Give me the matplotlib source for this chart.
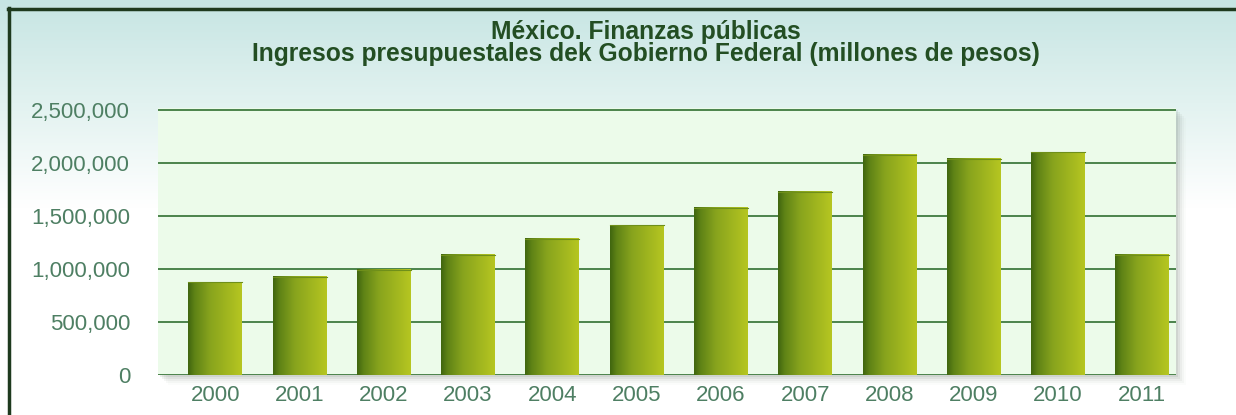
import numpy as np
import matplotlib
matplotlib.use("Agg")
import matplotlib.pyplot as plt
from matplotlib.colors import LinearSegmentedColormap
from matplotlib.patches import Rectangle
from matplotlib.lines import Line2D
from matplotlib.ticker import FuncFormatter

years = ["2000", "2001", "2002", "2003", "2004", "2005",
         "2006", "2007", "2008", "2009", "2010", "2011"]
ingresos = [875000, 925000, 995000, 1135000, 1285000, 1415000,
            1580000, 1730000, 2080000, 2040000, 2100000, 1135000]
yticks = [0, 500000, 1000000, 1500000, 2000000, 2500000]
title = "México. Finanzas públicas\nIngresos presupuestales dek Gobierno Federal (millones de pesos)"

plt.rcParams['font.family'] = ['Liberation Sans', 'DejaVu Sans']

W, H = 1236, 415
fig = plt.figure(figsize=(W / 100, H / 100), dpi=100)

# background gradient (figure)
bg = fig.add_axes([0, 0, 1, 1], zorder=-10)
bg.set_axis_off()
grad = np.linspace(0, 1, 256).reshape(-1, 1)
bg_cmap = LinearSegmentedColormap.from_list(
    "bg", [(0, "#c6e5e3"), (0.25, "#e2f2f0"), (0.5, "#ffffff"), (1, "#ffffff")])
bg.imshow(grad, aspect="auto", cmap=bg_cmap, extent=[0, 1, 0, 1], origin="upper")
bg.set_xlim(0, 1)
bg.set_ylim(0, 1)

# border lines (top and left)
fig.add_artist(Line2D([8 / W, 1], [1 - 9 / H, 1 - 9 / H], color="#1e3a1e", lw=2.5))
fig.add_artist(Line2D([9 / W, 9 / W], [0, 1 - 8 / H], color="#1e3a1e", lw=2.5))

left, right = 158 / W, 1176 / W
bottom, top = 40 / H, 307 / H
ax = fig.add_axes([left, bottom, right - left, top - bottom])

# shadow of plot area
for i, a in enumerate([0.10, 0.08, 0.06, 0.04, 0.02]):
    off = (i + 1) * 2
    fig.add_artist(Rectangle((left + off / W, bottom - off / H), right - left, top - bottom,
                             transform=fig.transFigure, facecolor="#556655", alpha=a,
                             edgecolor="none", zorder=0))

ax.set_facecolor("#ecfbea")
ax.set_zorder(1)
x = np.arange(len(years))
bars = ax.bar(x, ingresos, width=0.64, color="none", zorder=3)

bar_cmap = LinearSegmentedColormap.from_list(
    "bar", [(0, "#3f650f"), (0.12, "#5e8216"), (0.4, "#87a31d"), (1, "#b6c621")])
hgrad = np.linspace(0, 1, 256).reshape(1, -1)
for p in bars.patches:
    x0, w, h = p.get_x(), p.get_width(), p.get_height()
    ax.imshow(hgrad, aspect="auto", cmap=bar_cmap, extent=[x0, x0 + w, 0, h],
              zorder=3, interpolation="bicubic")
    ax.plot([x0, x0 + w], [h, h], color="#6f8f1a", lw=0.8, zorder=4)

ax.set_xlim(-0.68, 11.40)
ax.set_ylim(0, 2520000)
ax.set_yticks(yticks)
ax.yaxis.set_major_formatter(FuncFormatter(lambda v, p: f"{int(v):,}"))
ax.set_xticks(x)
ax.set_xticklabels(years)
ax.grid(axis="y", color="#3f7a3f", lw=1.3, zorder=1)
ax.set_axisbelow(True)
for s in ax.spines.values():
    s.set_visible(False)
ax.tick_params(axis="y", length=0, pad=20, labelsize=16, labelcolor="#4e7f63")
ax.tick_params(axis="x", length=0, pad=7, labelsize=16, labelcolor="#4e7f63")

fig.text(646 / W, 1 - 43 / H, title, ha="center", va="center", fontsize=17.7,
         fontweight="bold", color="#234e23", linespacing=0.92)

fig.savefig("out.png", dpi=100)
